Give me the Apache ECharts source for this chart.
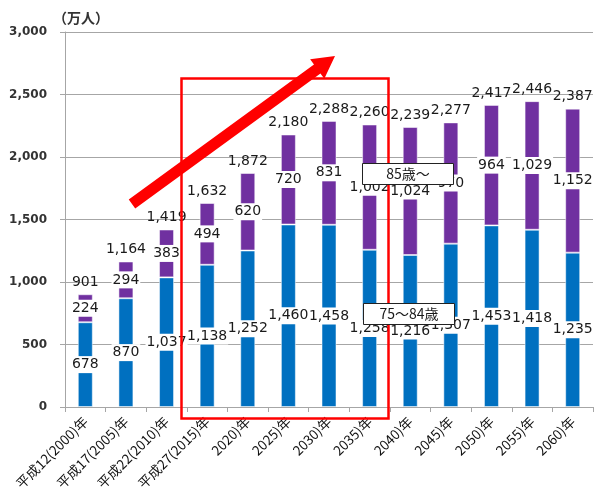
<!DOCTYPE html>
<html>
<head>
<meta charset="utf-8">
<script src="https://cdn.jsdelivr.net/npm/echarts@6/dist/echarts.min.js"></script>
<style>
html,body{margin:0;padding:0;background:#fff;}
#c{width:594px;height:493px;}
</style>
</head>
<body>
<div id="c"></div>
<script>
const categories = ['平成12(2000)年','平成17(2005)年','平成22(2010)年','平成27(2015)年','2020)年','2025)年','2030)年','2035)年','2040)年','2045)年','2050)年','2055)年','2060)年'];
const age75to84 = [678, 870, 1037, 1138, 1252, 1460, 1458, 1258, 1216, 1307, 1453, 1418, 1235];
const age85plus = [224, 294, 383, 494, 620, 720, 831, 1002, 1024, 970, 964, 1029, 1152];
const totals = [901, 1164, 1419, 1632, 1872, 2180, 2288, 2260, 2239, 2277, 2417, 2446, 2387];
const seriesNames = ['75～84歳', '85歳～'];
const unitLabel = '（万人）';

const fmt = v => Number(v).toLocaleString('en-US');
const numFont = 'DejaVu Sans';
const segLabel = {
  show: true, position: 'inside', formatter: p => fmt(p.value),
  color: '#1a1a1a', fontFamily: numFont, fontSize: 14,
  backgroundColor: '#fff', padding: [2, 1, 1, 1]
};

const chart = echarts.init(document.getElementById('c'), null, {renderer: 'canvas'});

// arrow geometry (annotation)
const ax0 = 132, ay0 = 204, tipX = 335, tipY = 56;
const dx = tipX - ax0, dy = tipY - ay0, L = Math.hypot(dx, dy);
const ux = dx / L, uy = dy / L, px = -uy, py = ux;
const hw = 5.5, headLen = 22, headHw = 12;
const bx = tipX - ux * headLen, by = tipY - uy * headLen;
const arrowPts = [
  [ax0 + px * hw, ay0 + py * hw],
  [bx + px * hw, by + py * hw],
  [bx + px * headHw, by + py * headHw],
  [tipX, tipY],
  [bx - px * headHw, by - py * headHw],
  [bx - px * hw, by - py * hw],
  [ax0 - px * hw, ay0 - py * hw]
];

chart.setOption({
  animation: false,
  backgroundColor: '#fff',
  grid: {left: 65, right: 1, top: 32, bottom: 86, containLabel: false},
  xAxis: {
    type: 'category', data: categories,
    axisLine: {show: true, lineStyle: {color: '#a6a6a6', width: 1}},
    axisTick: {show: true, length: 5, lineStyle: {color: '#a6a6a6'}},
    axisLabel: {rotate: 45, margin: 12, color: '#111', fontSize: 13.5, fontFamily: 'Noto Sans CJK JP', interval: 0}
  },
  yAxis: {
    type: 'value', min: 0, max: 3000, interval: 500,
    axisLine: {show: true, lineStyle: {color: '#a6a6a6'}},
    axisTick: {show: true, length: 5, lineStyle: {color: '#a6a6a6'}},
    splitLine: {lineStyle: {color: '#a6a6a6', width: 1}},
    axisLabel: {formatter: v => fmt(v), color: '#333', fontSize: 12, fontWeight: 'bold', fontFamily: numFont, margin: 18}
  },
  series: [
    {
      name: seriesNames[0], type: 'bar', stack: 's', data: age75to84, barWidth: 15,
      itemStyle: {color: '#0070C0', borderColor: 'rgba(255,255,255,0.5)', borderWidth: 1},
      label: segLabel, z: 2
    },
    {
      name: seriesNames[1], type: 'bar', stack: 's', data: age85plus, barWidth: 15,
      itemStyle: {color: '#7030A0', borderColor: 'rgba(255,255,255,0.5)', borderWidth: 1},
      label: segLabel, z: 2
    },
    {
      name: 'total', type: 'scatter', data: totals, symbolSize: 2, silent: true,
      itemStyle: {color: 'rgba(0,0,0,0)', opacity: 1},
      label: {show: true, position: 'top', distance: 4, formatter: p => fmt(p.value),
        color: '#1a1a1a', fontFamily: numFont, fontSize: 14, opacity: 1},
      z: 3
    }
  ],
  graphic: [
    {type: 'text', left: 53, top: 11, z: 10,
      style: {text: unitLabel, fill: '#333', font: 'bold 14px "Noto Sans CJK JP"'}},
    {type: 'rect', shape: {x: 181.5, y: 78.5, width: 207, height: 340}, z: 20,
      style: {fill: 'none', stroke: '#ff0000', lineWidth: 2.5}},
    {type: 'polygon', shape: {points: arrowPts}, z: 21,
      style: {fill: '#ff0000'}},
    {type: 'group', z: 30, children: [
      {type: 'rect', shape: {x: 362.5, y: 163.5, width: 91, height: 21},
        style: {fill: '#fff', stroke: '#222', lineWidth: 1}, z: 30},
      {type: 'text', x: 408, y: 174, z: 31,
        style: {text: seriesNames[1], fill: '#1a1a1a', font: '14px "Noto Sans CJK JP"', align: 'center', verticalAlign: 'middle'}},
      {type: 'rect', shape: {x: 363.5, y: 303.5, width: 91, height: 21},
        style: {fill: '#fff', stroke: '#222', lineWidth: 1}, z: 30},
      {type: 'text', x: 409, y: 314, z: 31,
        style: {text: seriesNames[0], fill: '#1a1a1a', font: '14px "Noto Sans CJK JP"', align: 'center', verticalAlign: 'middle'}}
    ]}
  ]
});
</script>
</body>
</html>
